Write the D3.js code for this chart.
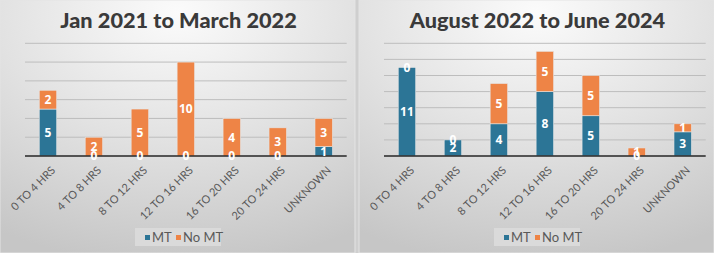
<!DOCTYPE html>
<html>
<head>
<meta charset="utf-8">
<script src="https://cdn.jsdelivr.net/npm/d3@7"></script>
<style>
  body { margin: 0; background: #cfcfcf; }
  svg { display: block; }
</style>
</head>
<body>
<div id="chart"></div>
<script>
// categories shared by both charts
var categories = ["0 TO 4 HRS", "4 TO 8 HRS", "8 TO 12 HRS", "12 TO 16 HRS", "16 TO 20 HRS", "20 TO 24 HRS", "UNKNOWN"];
var seriesNames = ["MT", "No MT"];

// Jan 2021 to March 2022
var leftTitle = "Jan 2021 to March 2022";
var leftMT = [5, 0, 0, 0, 0, 0, 1];
var leftNoMT = [2, 2, 5, 10, 4, 3, 3];
var leftMax = 12;

// August 2022 to June 2024
var rightTitle = "August 2022 to June 2024";
var rightMT = [11, 2, 4, 8, 5, 0, 3];
var rightNoMT = [0, 0, 5, 5, 5, 1, 1];
var rightMax = 14;

var colors = ["#2c7596", "#ee8446"];

var W = 714, H = 253;

var svg = d3.select("#chart").append("svg")
    .attr("width", W)
    .attr("height", H);

var defs = svg.append("defs");
var grad = defs.append("radialGradient")
    .attr("id", "panelBg")
    .attr("cx", "50%").attr("cy", "5%")
    .attr("r", "100%")
    .attr("fx", "50%").attr("fy", "5%");
grad.append("stop").attr("offset", "0%").attr("stop-color", "#fbfbfb");
grad.append("stop").attr("offset", "50%").attr("stop-color", "#e2e2e2");
grad.append("stop").attr("offset", "100%").attr("stop-color", "#c6c6c6");

svg.append("rect")
    .attr("width", W).attr("height", H)
    .attr("fill", "#cfcfcf");

function drawChart(x0, title, mt, noMt, yMax) {
    var g = svg.append("g").attr("transform", "translate(" + x0 + ",0)");
    var pw = 355;

    g.append("rect")
        .attr("x", 0).attr("y", 0)
        .attr("width", pw).attr("height", H)
        .attr("fill", "url(#panelBg)")
        .attr("stroke", "#e4e4e4")
        .attr("stroke-width", 1);

    g.append("text")
        .attr("x", pw / 2 + 1)
        .attr("y", 28)
        .attr("text-anchor", "middle")
        .style("font-family", "Lato, 'Open Sans', sans-serif")
        .style("font-weight", "900")
        .style("font-size", "21.7px")
        .style("fill", "#3a3a3a")
        .text(title);

    var xScale = d3.scaleBand()
        .domain(categories)
        .range([25, 346.7])
        .paddingInner(0.62)
        .paddingOuter(0.31);

    var yScale = d3.scaleLinear()
        .domain([0, yMax])
        .range([156, 43.3]);

    // gridlines
    var ticks = d3.range(2, yMax + 1, 2);
    g.append("g")
        .selectAll("line")
        .data(ticks)
        .enter()
        .append("line")
            .attr("x1", 25).attr("x2", 346.7)
            .attr("y1", function(d) { return yScale(d); })
            .attr("y2", function(d) { return yScale(d); })
            .attr("stroke", "#bdbdbd")
            .attr("stroke-width", 1);

    var rows = categories.map(function(c, i) {
        return { cat: c, MT: mt[i], "No MT": noMt[i] };
    });
    var stacked = d3.stack().keys(seriesNames)(rows);

    var layers = g.append("g")
        .selectAll("g")
        .data(stacked)
        .enter()
        .append("g")
            .attr("fill", function(d, i) { return colors[i]; });

    layers.selectAll("rect")
        .data(function(d) { return d; })
        .enter()
        .append("rect")
            .attr("x", function(d) { return xScale(d.data.cat); })
            .attr("y", function(d) { return yScale(d[1]); })
            .attr("width", xScale.bandwidth())
            .attr("height", function(d) { return yScale(d[0]) - yScale(d[1]); })
            .attr("stroke", "#e6e6e6")
            .attr("stroke-width", 0.6);

    // axis line
    var xaxis = d3.axisBottom(xScale).tickSize(0).tickPadding(0);
    var ax = g.append("g")
        .attr("transform", "translate(0,156)")
        .call(xaxis);
    ax.select(".domain")
        .attr("d", "M25,0H346.7")
        .attr("stroke", "#262626")
        .attr("stroke-width", 1.5);
    ax.selectAll("text")
        .attr("y", 0).attr("dy", 0)
        .attr("text-anchor", "end")
        .attr("transform", "translate(8,15) rotate(-45)")
        .style("font-family", "Lato, 'Open Sans', sans-serif")
        .style("font-size", "11px")
        .style("fill", "#595959");

    // data labels, drawn after all bars
    var labels = g.append("g");
    stacked.forEach(function(layer) {
        labels.selectAll(null)
            .data(layer)
            .enter()
            .append("text")
                .attr("x", function(d) { return xScale(d.data.cat) + xScale.bandwidth() / 2; })
                .attr("y", function(d) { return (yScale(d[0]) + yScale(d[1])) / 2; })
                .attr("dy", "0.36em")
                .attr("text-anchor", "middle")
                .style("font-family", "'Open Sans', sans-serif")
                .style("font-weight", "700")
                .style("font-size", "12px")
                .style("fill", "#ffffff")
                .text(function(d) { return d[1] - d[0]; });
    });

    // legend
    var lg = g.append("g").attr("transform", "translate(135,228)");
    lg.append("rect")
        .attr("width", 86).attr("height", 18)
        .attr("fill", "#dadada");
    var items = lg.selectAll("g")
        .data(seriesNames)
        .enter()
        .append("g")
            .attr("transform", function(d, i) { return "translate(" + (10 + i * 31) + ",0)"; });
    items.append("rect")
        .attr("y", 7).attr("width", 5).attr("height", 5)
        .attr("fill", function(d, i) { return colors[i]; });
    items.append("text")
        .attr("x", 7).attr("y", 14)
        .style("font-family", "Lato, 'Open Sans', sans-serif")
        .style("font-size", "13px")
        .style("fill", "#595959")
        .text(function(d) { return d; });
}

drawChart(0, leftTitle, leftMT, leftNoMT, leftMax);
drawChart(359, rightTitle, rightMT, rightNoMT, rightMax);
</script>
</body>
</html>
